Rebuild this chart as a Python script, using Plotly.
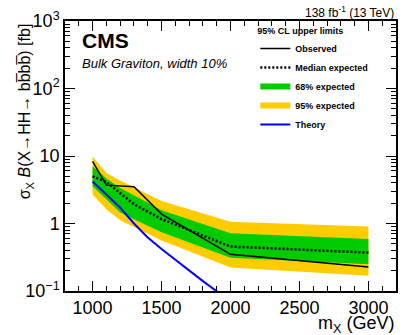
import plotly.graph_objects as go

# ---- data ----
mass = [1000, 1100, 1200, 1300, 1500, 2000, 3000]
observed = [8.3, 3.7, None, 3.5, 1.38, 0.35, 0.226]
median_exp = [5.0, 4.13, 2.82, 1.93, 1.16, 0.456, 0.37]
band68_up = [7.02, 4.63, 3.37, 2.62, 1.57, 0.715, 0.59]
band68_dn = [3.57, 2.28, 1.45, 1.16, 0.74, 0.312, 0.249]
band95_up = [9.84, 5.6, 4.33, 3.43, 2.15, 1.06, 0.905]
band95_dn = [2.70, 1.63, 1.12, 0.89, 0.56, 0.222, 0.168]

theory_mass = [1000, 1100, 1200, 1300, 1400, 1500, 1600, 1800, 2000]
theory_xs = [4.2, 2.7, 1.72, 1.0, 0.62, 0.42, 0.29, 0.14, 0.07]

ytick_vals = [0.1, 1, 10, 100, 1000]
ytick_text = ["10<sup>\u22121</sup>", "1", "10", "10<sup>2</sup>", "10<sup>3</sup>"]
xtick_vals = [1000, 1500, 2000, 2500, 3000]

FONT = "Liberation Sans, Arial, Helvetica, sans-serif"

obs_m = [m for m, v in zip(mass, observed) if v is not None]
obs_v = [v for v in observed if v is not None]

fig = go.Figure()

fig.add_trace(go.Scatter(
    x=mass + mass[::-1], y=band95_up + band95_dn[::-1],
    fill="toself", fillcolor="#ffcc00", mode="none",
    name="95% expected", legendrank=4, hoverinfo="skip"))
fig.add_trace(go.Scatter(
    x=mass + mass[::-1], y=band68_up + band68_dn[::-1],
    fill="toself", fillcolor="#00cc00", mode="none",
    name="68% expected", legendrank=3, hoverinfo="skip"))
fig.add_trace(go.Scatter(
    x=mass, y=median_exp, mode="lines",
    line=dict(color="black", width=2.5, dash="2px,2px"),
    name="Median expected", legendrank=2))
fig.add_trace(go.Scatter(
    x=obs_m, y=obs_v, mode="lines",
    line=dict(color="black", width=1.5),
    name="Observed", legendrank=1))
fig.add_trace(go.Scatter(
    x=theory_mass, y=theory_xs, mode="lines",
    line=dict(color="#0000ff", width=2),
    name="Theory", legendrank=5))

axis_common = dict(
    showline=True, linecolor="black", linewidth=1.5, mirror="allticks",
    ticks="inside", ticklen=10, tickwidth=1, tickcolor="black",
    showgrid=False, zeroline=False,
    tickfont=dict(family=FONT, size=18, color="black"),
)

fig.update_layout(
    width=407, height=335,
    margin=dict(l=65, r=9, t=18, b=44),
    paper_bgcolor="white", plot_bgcolor="white",
    font=dict(family=FONT, color="black"),
    showlegend=True,
    legend=dict(
        x=0.575, y=0.995, xanchor="left", yanchor="top",
        bgcolor="rgba(0,0,0,0)", borderwidth=0,
        font=dict(family=FONT, size=9, color="black", weight="bold"),
        title=dict(text="<b>95% CL upper limits</b>",
                   font=dict(family=FONT, size=9, color="black")),
        tracegroupgap=0, itemwidth=30,
    ),
    xaxis=dict(
        range=[800, 3200], tickvals=xtick_vals,
        minor=dict(ticks="inside", ticklen=5, dtick=100, tickcolor="black", showgrid=False),
        **axis_common),
    yaxis=dict(
        type="log", range=[-1, 3], tickvals=ytick_vals, ticktext=ytick_text,
        minor=dict(ticks="inside", ticklen=5, dtick="D1", tickcolor="black", showgrid=False),
        **axis_common),
)

annotations = [
    dict(text="<b>CMS</b>", x=0.045, y=0.9286, xref="paper", yref="paper",
         xanchor="left", yanchor="middle", showarrow=False,
         font=dict(family=FONT, size=21, color="black")),
    dict(text="<i>Bulk Graviton, width 10%</i>", x=0.045, y=0.8425, xref="paper", yref="paper",
         xanchor="left", yanchor="middle", showarrow=False,
         font=dict(family=FONT, size=13, color="black")),
    dict(text="138 fb<sup>-1</sup> (13 TeV)", x=1.0, y=1.035, xref="paper", yref="paper",
         xanchor="right", yanchor="middle", showarrow=False,
         font=dict(family=FONT, size=12, color="black")),
    dict(text="m<sub>X</sub> (GeV)", x=1.0, y=-0.123, xref="paper", yref="paper",
         xanchor="right", yanchor="middle", showarrow=False,
         font=dict(family=FONT, size=18, color="black")),
    dict(text="\u03c3<sub>X</sub> <i>B</i>(X\u2192HH\u2192 bb\u0305bb\u0305) [fb]",
         x=-0.12, y=1.0, xref="paper", yref="paper", textangle=-90,
         xanchor="center", yanchor="top", showarrow=False,
         font=dict(family=FONT, size=16, color="black")),
]
fig.update_layout(annotations=annotations)

fig.write_html("out.html",
               config={"displayModeBar": False},
               post_script="document.body.style.margin='0px';document.body.style.overflow='hidden';")
